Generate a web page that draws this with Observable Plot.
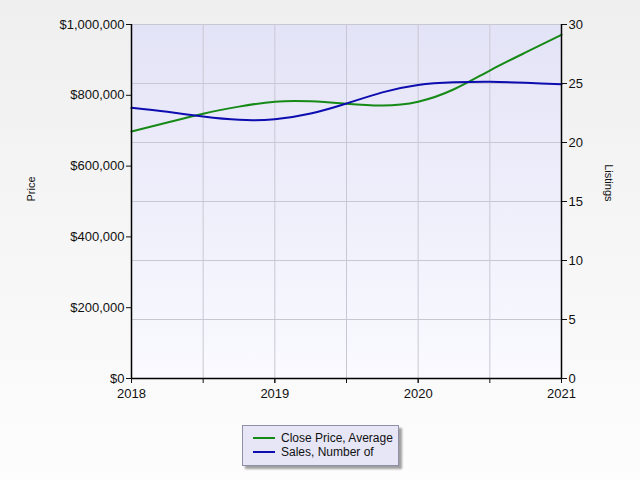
<!DOCTYPE html>
<html>
<head>
<meta charset="utf-8">
<script src="https://cdn.jsdelivr.net/npm/d3@7"></script>
<script src="https://cdn.jsdelivr.net/npm/@observablehq/plot@0.6"></script>
<style>
  html, body { margin: 0; padding: 0; }
  body { width: 640px; height: 480px; background: linear-gradient(#efefef, #fdfdfd); font-family: "Liberation Sans", Arial, sans-serif; position: relative; overflow: hidden; }
  #chart { position: absolute; left: 0; top: 0; }
  #legend { position: absolute; left: 242px; top: 425px; width: 155px; height: 39px; background: #e6e6f7; border: 1px solid #8f8fa8; box-shadow: 3px 3px 2px #a0a0a0; font-size: 12px; color: #111; }
  .row { position: absolute; left: 10px; display: flex; align-items: center; }
  .sw { width: 22px; height: 0; border-top: 2px solid; margin-right: 6px; }
</style>
</head>
<body>
<div id="chart"></div>
<div id="legend"></div>
<script>
const years = [2018, 2018.25, 2018.5, 2018.75, 2019, 2019.25, 2019.5, 2019.75, 2020, 2020.25, 2020.5, 2020.75, 2021];
const closePriceAvg = [698000, 723000, 748000, 768000, 782000, 783000, 776000, 771000, 782000, 817000, 870000, 921000, 971000];
const salesNumber = [22.94, 22.6, 22.2, 21.92, 21.97, 22.45, 23.3, 24.25, 24.88, 25.1, 25.15, 25.06, 24.94];
const yearTicks = [2018, 2019, 2020, 2021];
const halfYearTicks = [2018, 2018.5, 2019, 2019.5, 2020, 2020.5, 2021];
const priceTicks = [0, 200000, 400000, 600000, 800000, 1000000];
const listingTicks = [0, 5, 10, 15, 20, 25, 30];
const seriesNames = ["Close Price, Average", "Sales, Number of"];
const seriesColors = ["#168a16", "#0c0cb0"];

const priceMax = 1000000, listingMax = 30;
const k = priceMax / listingMax;
const data = years.map((y, i) => ({year: y, price: closePriceAvg[i], sales: salesNumber[i]}));

const chart = Plot.plot({
  width: 640,
  height: 420,
  marginLeft: 131,
  marginRight: 79,
  marginTop: 24,
  marginBottom: 42,
  style: {background: "transparent", fontSize: "13px", fontFamily: "Liberation Sans, Arial, sans-serif", color: "#111"},
  x: {domain: [2018, 2021]},
  y: {domain: [0, priceMax]},
  marks: [
    Plot.frame({fill: "url(#plotbg)", stroke: "none"}),
    Plot.ruleX(halfYearTicks, {stroke: "#c8c8d4", strokeWidth: 1}),
    Plot.ruleY(listingTicks.map(v => v * k), {stroke: "#c8c8d4", strokeWidth: 1}),
    Plot.line(data, {x: "year", y: "price", curve: "natural", stroke: seriesColors[0], strokeWidth: 2}),
    Plot.line(data, {x: "year", y: d => d.sales * k, curve: "natural", stroke: seriesColors[1], strokeWidth: 2}),
    Plot.ruleX([2018, 2021], {stroke: "#000", strokeWidth: 1.5}),
    Plot.ruleY([0], {stroke: "#000", strokeWidth: 1.5}),
    Plot.axisY({anchor: "left", ticks: priceTicks, tickFormat: d => "$" + d3.format(",")(d), tickSize: 5, tickPadding: 2, label: null}),
    Plot.axisY({anchor: "right", ticks: listingTicks.map(v => v * k), tickFormat: d => String(Math.round(d / k)), tickSize: 5, tickPadding: 2, label: null}),
    Plot.axisX({ticks: halfYearTicks, tickFormat: () => "", tickSize: 5, label: null}),
    Plot.axisX({ticks: yearTicks, tickFormat: d => String(d), tickSize: 5, tickPadding: 5, label: null}),
    Plot.text(["Price"], {frameAnchor: "left", dx: -100, rotate: -90, fontSize: 11, fill: "#111"}),
    Plot.text(["Listings"], {frameAnchor: "right", dx: 47, rotate: 90, fontSize: 11, fill: "#111"})
  ]
});

const ns = "http://www.w3.org/2000/svg";
const defs = document.createElementNS(ns, "defs");
defs.innerHTML = '<linearGradient id="plotbg" x1="0" y1="0" x2="0" y2="1"><stop offset="0" stop-color="#e3e3f7"/><stop offset="1" stop-color="#fafaff"/></linearGradient>';
chart.insertBefore(defs, chart.firstChild);
document.getElementById("chart").appendChild(chart);

const legend = document.getElementById("legend");
seriesNames.forEach((name, i) => {
  const row = document.createElement("div");
  row.className = "row";
  row.style.top = (5 + i * 14) + "px";
  const sw = document.createElement("span");
  sw.className = "sw";
  sw.style.borderTopColor = seriesColors[i];
  const t = document.createElement("span");
  t.textContent = name;
  row.appendChild(sw);
  row.appendChild(t);
  legend.appendChild(row);
});
</script>
</body>
</html>
